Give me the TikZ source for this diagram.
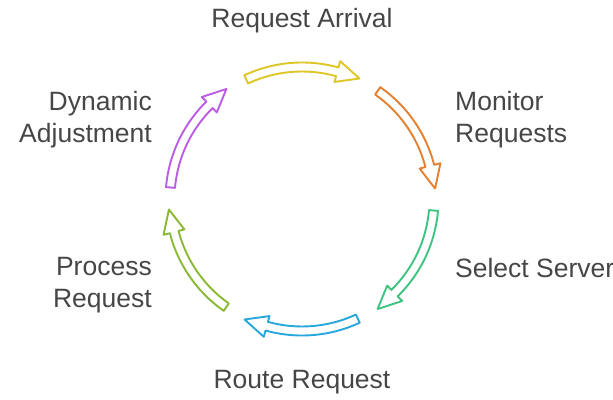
\documentclass[tikz,border=0pt]{standalone}
\usepackage{fontspec}
\setmainfont{Liberation Sans}
\usetikzlibrary{positioning, calc}
\definecolor{inkgray}{RGB}{70,70,70}
\definecolor{arrivalcol}{RGB}{222,198,38}
\definecolor{monitorcol}{RGB}{228,128,48}
\definecolor{selectcol}{RGB}{62,196,128}
\definecolor{routecol}{RGB}{40,168,218}
\definecolor{processcol}{RGB}{138,186,52}
\definecolor{adjustcol}{RGB}{188,92,228}
\tikzstyle{stagetext} = [inner sep=0pt, text=inkgray, font=\fontsize{26.5}{32}\selectfont]
\tikzstyle{ringarrow} = [line width=1.9pt, line join=round, fill=white]

\begin{document}
\begin{tikzpicture}[x=1pt, y=1pt]
  \useasboundingbox (0,0) rectangle (613,399);
  \coordinate (hub) at (302,200);

  % hollow arrows round the ring
  \foreach \mid/\col in {90/arrivalcol, 30/monitorcol, -30/selectcol,
                         -90/routecol, -150/processcol, 150/adjustcol} {
    \pgfmathsetmacro\tail{\mid+25}
    \pgfmathsetmacro\tip{\mid-25.5}
    \pgfmathsetmacro\hbase{\mid-15.5}
    \draw[ringarrow, draw=\col] ([shift={(\tail:136.5)}]hub)
      arc[start angle=\tail, end angle=\hbase, radius=136.5pt]
      -- ([shift={(\hbase:143)}]hub) -- ([shift={(\tip:133.5)}]hub)
      -- ([shift={(\hbase:121.5)}]hub) -- ([shift={(\hbase:127.5)}]hub)
      arc[start angle=\hbase, end angle=\tail, radius=127.5pt] -- cycle;
  }

  % stage names
  \node[stagetext] (arrival) at (302,378.5) {Request Arrival};
  \node[stagetext, anchor=west, align=left] (monitor) at (455,279) {Monitor\\Requests};
  \node[stagetext, anchor=west] (select) at (455,131) {Select Server};
  \node[stagetext] (route) at (302,16.5) {Route Request};
  \node[stagetext, anchor=east, align=right] (process) at (152,114) {Process\\Request};
  \node[stagetext, anchor=east, align=right] (adjust) at (152,279) {Dynamic\\Adjustment};
\end{tikzpicture}
\end{document}
